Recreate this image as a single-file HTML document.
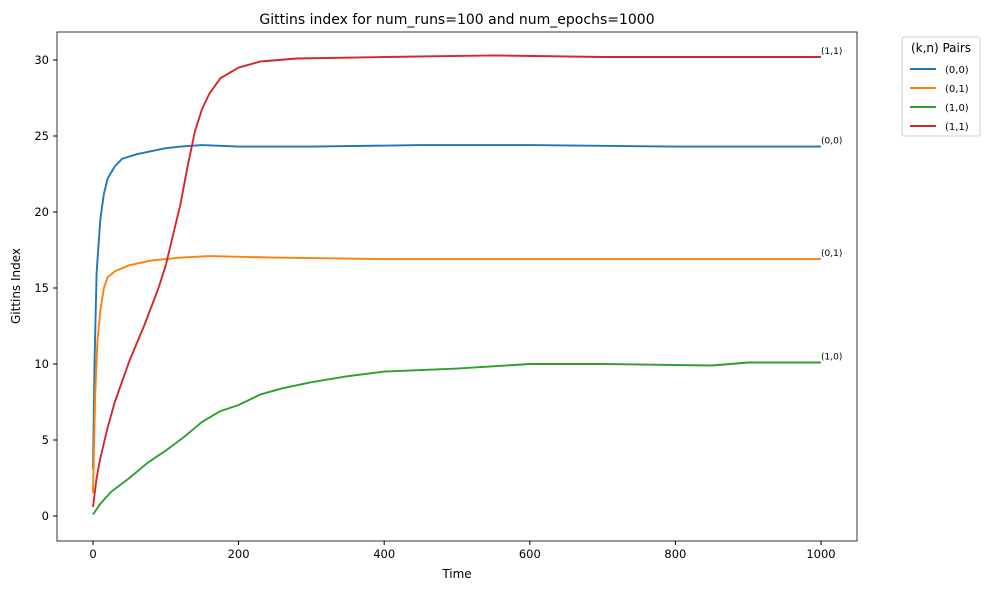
<!DOCTYPE html>
<html><head><meta charset="utf-8"><style>
body{margin:0;background:#fff;font-family:"Liberation Sans","DejaVu Sans",sans-serif}
svg text{font-family:"DejaVu Sans","Liberation Sans",sans-serif}
</style></head><body>
<svg id="chart" width="991" height="590">
<rect x="0" y="0" width="991" height="590" fill="#fff"/>
<g id="plot"></g>
<rect x="57" y="32" width="800" height="509" fill="none" stroke="#000" stroke-width="0.8"/>
<text x="457" y="24" text-anchor="middle" font-size="14">Gittins index for num_runs=100 and num_epochs=1000</text>
<text x="457" y="578" text-anchor="middle" font-size="12">Time</text>
<text transform="translate(20,286) rotate(-90)" text-anchor="middle" font-size="12">Gittins Index</text>
<g>
<rect x="902" y="37" width="78" height="99" fill="#fff" stroke="#ccc" rx="2"/>
<text x="941" y="52" text-anchor="middle" font-size="12">(k,n) Pairs</text>
<g id="legend-items"></g>
</g>
</svg>
<script>
const series = ["(0,0)","(0,1)","(1,0)","(1,1)"];
const colors = ["#1f77b4","#ff7f0e","#2ca02c","#d62728"];
const t00 = [0,2,5,10,15,20,30,40,60,80,100,120,150,200,300,450,600,800,1000];
const v00 = [3.1,10,16,19.5,21.2,22.2,23,23.5,23.8,24.0,24.2,24.3,24.4,24.3,24.3,24.4,24.4,24.3,24.3];
const t01 = [0,3,6,10,15,20,30,50,80,120,160,250,400,700,1000];
const v01 = [1.5,8,11.5,13.5,15,15.7,16.1,16.5,16.8,17.0,17.1,17.0,16.9,16.9,16.9];
const t10 = [0,10,25,50,75,100,125,150,175,200,230,260,300,350,400,500,600,700,850,900,1000];
const v10 = [0.1,0.8,1.6,2.5,3.5,4.3,5.2,6.2,6.9,7.3,8.0,8.4,8.8,9.2,9.5,9.7,10.0,10.0,9.9,10.1,10.1];
const t11 = [0,5,10,20,30,50,70,90,100,110,120,130,140,150,160,175,200,230,280,400,550,700,1000];
const v11 = [0.6,2.5,3.8,5.8,7.5,10.2,12.5,15,16.5,18.5,20.5,23,25.3,26.8,27.8,28.8,29.5,29.9,30.1,30.2,30.3,30.2,30.2];
const xTicks = [0,200,400,600,800,1000];
const yTicks = [0,5,10,15,20,25,30];
const ts=[t00,t01,t10,t11], vs=[v00,v01,v10,v11];
const X=t=>93+t*0.728, Y=v=>516-v*15.2;
const NS="http://www.w3.org/2000/svg";
const plot=document.getElementById('plot');
function mk(tag,attrs,parent){const e=document.createElementNS(NS,tag);for(const k in attrs)e.setAttribute(k,attrs[k]);parent.appendChild(e);return e;}
xTicks.forEach(t=>{
  const l=mk('line',{x1:X(t),x2:X(t),y1:541,y2:545,stroke:'#000'},plot);
  
  
  const tx=mk('text',{x:X(t),y:558,'text-anchor':'middle','font-size':11.5},plot);tx.textContent=t;
  
  
});
yTicks.forEach(v=>{
  const l=mk('line',{x1:53,x2:57,y1:Y(v),y2:Y(v),stroke:'#000'},plot);
  
  
  const tx=mk('text',{x:49,y:Y(v)+4,'text-anchor':'end','font-size':11.5},plot);tx.textContent=v;
  
  
});
series.forEach((s,i)=>{
  const pts=ts[i].map((t,j)=>X(t).toFixed(1)+','+Y(vs[i][j]).toFixed(1)).join(' ');
  const p=mk('polyline',{points:pts,fill:'none',stroke:colors[i],'stroke-width':1.9,'stroke-linejoin':'round'},plot);
  
  
  const last=vs[i][vs[i].length-1];
  const lb=mk('text',{x:X(1000),y:Y(last)-3,'font-size':9},plot);lb.textContent=s;
  
  
  const lg=document.getElementById('legend-items');
  const y=69+i*19;
  const ll=mk('line',{x1:910,x2:936,y1:y,y2:y,stroke:colors[i],'stroke-width':1.9},lg);
  
  
  const lt=mk('text',{x:945,y:y+4,'font-size':10},lg);lt.textContent=s;
  
  
});
</script>
</body></html>
